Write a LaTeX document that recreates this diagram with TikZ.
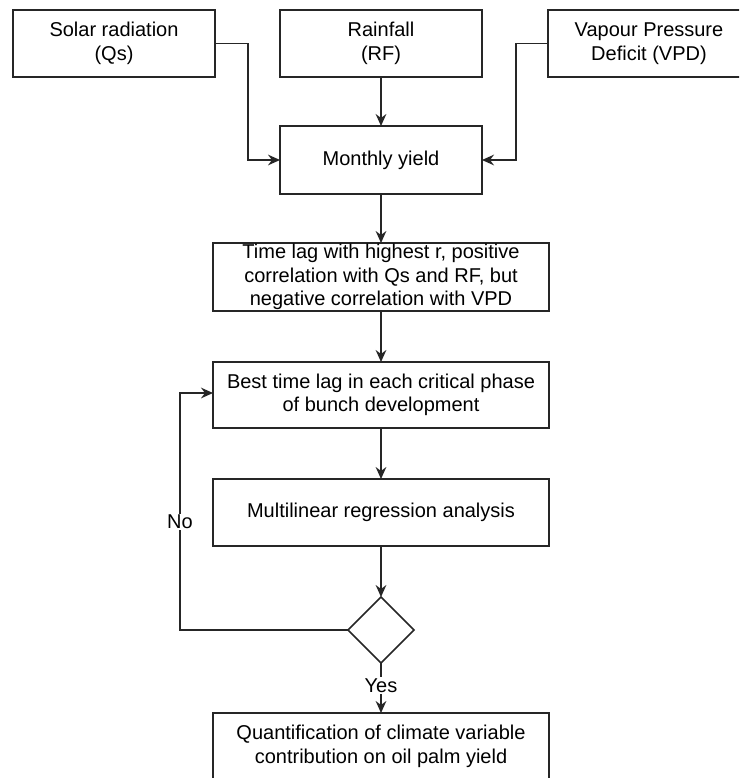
\documentclass[tikz,border=0pt]{standalone}
\usepackage{fontspec}
\setmainfont{Liberation Sans}
\usetikzlibrary{shapes.geometric,arrows.meta,positioning}
\tikzset{
  box/.style={draw=black!85, line width=1.3pt, fill=white, rectangle, align=center,
    inner sep=0pt, outer sep=0pt, font=\fontsize{15pt}{17.6pt}\selectfont},
  smallbox/.style={box, minimum width=151.5pt, minimum height=50.25pt},
  widebox/.style={box, minimum width=252pt, minimum height=50.25pt},
  decision/.style={draw=black!85, line width=1.3pt, fill=white, diamond, aspect=1,
    inner sep=0pt, outer sep=0pt, minimum width=49.5pt, minimum height=49.5pt},
  conn/.style={draw=black!85, line width=1.3pt, -{Stealth[length=9pt,width=8pt,inset=3pt]}},
  lbl/.style={fill=white, inner sep=1pt, font=\fontsize{15pt}{17.6pt}\selectfont}
}
\begin{document}
\begin{tikzpicture}[x=0.75pt,y=-0.75pt]
\clip (0,0) rectangle (739,778);
\fill[white] (0,0) rectangle (739,778);
\node[smallbox] (solar) at (114,43.5) {Solar radiation\\(Qs)};
\node[smallbox] (rain) at (381,43.5) {Rainfall\\(RF)};
\node[smallbox] (vpd) at (649,43.5) {Vapour Pressure\\Deficit (VPD)};
\node[smallbox, minimum height=51pt] (monthly) at (381,160) {Monthly yield};
\node[widebox, minimum height=51pt] (lag) at (381,277) {Time lag with highest r, positive\\correlation with Qs and RF, but\\negative correlation with VPD};
\node[widebox, minimum height=49.5pt] (best) at (381,395) {Best time lag in each critical phase\\of bunch development};
\node[widebox] (multi) at (381,512.5) {Multilinear regression analysis};
\node[decision] (dec) at (381,630) {};
\node[widebox] (final) at (381,746.5) {Quantification of climate variable\\contribution on oil palm yield};
\coordinate (loop) at (180,630);

\draw[conn] (rain.south) -- (monthly.north);
\draw[conn] (solar.east) -- ++(33,0) |- (monthly.west);
\draw[conn] (vpd.west) -- ++(-32,0) |- (monthly.east);
\draw[conn] (monthly.south) -- (lag.north);
\draw[conn] (lag.south) -- (best.north);
\draw[conn] (best.south) -- (multi.north);
\draw[conn] (multi.south) -- (dec.north);
\draw[conn] (dec.south) -- node[lbl, pos=0.45] (yes) {Yes} (final.north);
\draw[conn] (dec.west) -- (loop) |- node[lbl, pos=0.228] (no) {No} ([yshift=1.5pt]best.west);
\end{tikzpicture}
\end{document}
